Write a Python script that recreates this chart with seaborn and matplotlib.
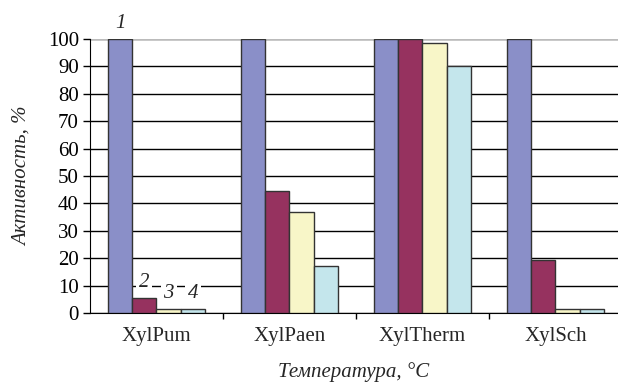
import matplotlib
matplotlib.use("Agg")
import matplotlib.pyplot as plt
import seaborn as sns
import pandas as pd

enzymes = ["XylPum", "XylPaen", "XylTherm", "XylSch"]
series = ["1", "2", "3", "4"]
act_1 = [100, 100, 100, 100]
act_2 = [5.5, 44.5, 100, 19.5]
act_3 = [1.5, 37, 98.5, 1.5]
act_4 = [1.5, 17, 90, 1.5]
colors = ["#8a8fc8", "#96325f", "#f8f6c8", "#c4e6ec"]

df = pd.DataFrame({
    "enzyme": enzymes * 4,
    "series": [s for s in series for _ in enzymes],
    "value": act_1 + act_2 + act_3 + act_4,
})

sns.set_style("white")
plt.rcParams["font.family"] = ["Liberation Serif", "DejaVu Serif"]

fig = plt.figure(figsize=(6.18, 3.83), dpi=100)
ax = fig.add_axes([90 / 618, 70 / 383, 528 / 618, 274 / 383])

sns.barplot(data=df, x="enzyme", y="value", hue="series", palette=colors,
            width=0.73, edgecolor="#333333", linewidth=1.0, saturation=1,
            legend=False, ax=ax, zorder=3)

ax.set_ylim(0, 100)
ax.set_xlim(-0.5, 3.47)
ax.set_yticks(range(0, 101, 10))
ax.yaxis.grid(True, color="black", linewidth=1.0, zorder=0)
ax.set_axisbelow(True)
for side in ["top", "right"]:
    ax.spines[side].set_visible(False)
ax.spines["left"].set_color("black")
ax.spines["bottom"].set_color("black")
ax.axhline(100, color="#bbbbbb", linewidth=1.0, zorder=1)

ax.tick_params(axis="y", direction="out", length=5, width=1, left=True,
               labelsize=15, colors="black", pad=3)
ax.set_xticks(range(4))
ax.set_xticklabels(enzymes, fontsize=15)
ax.set_xticks([0.5, 1.5, 2.5], minor=True)
ax.tick_params(axis="x", which="major", length=0, pad=10)
ax.tick_params(axis="x", which="minor", length=4, width=1, bottom=True,
               direction="out", colors="black")

ax.set_ylabel("Активность, %", fontsize=15, fontstyle="italic", va="center")
ax.set_xlabel("Температура, °C", fontsize=15, fontstyle="italic", va="center")
ax.yaxis.set_label_coords(-0.129, 0.5)
ax.xaxis.set_label_coords(0.5, -0.215)

# italic series numbers over the XylPum group
for cont, lab in zip(ax.containers, series):
    bar = cont[0]
    xc = bar.get_x() + bar.get_width() / 2
    h = bar.get_height()
    ax.text(xc, h + 5.5, lab, ha="center", va="center", fontsize=15,
            fontstyle="italic", clip_on=False, zorder=5,
            bbox=dict(facecolor="white", edgecolor="none", pad=2))

fig.savefig("out.png", dpi=100)
